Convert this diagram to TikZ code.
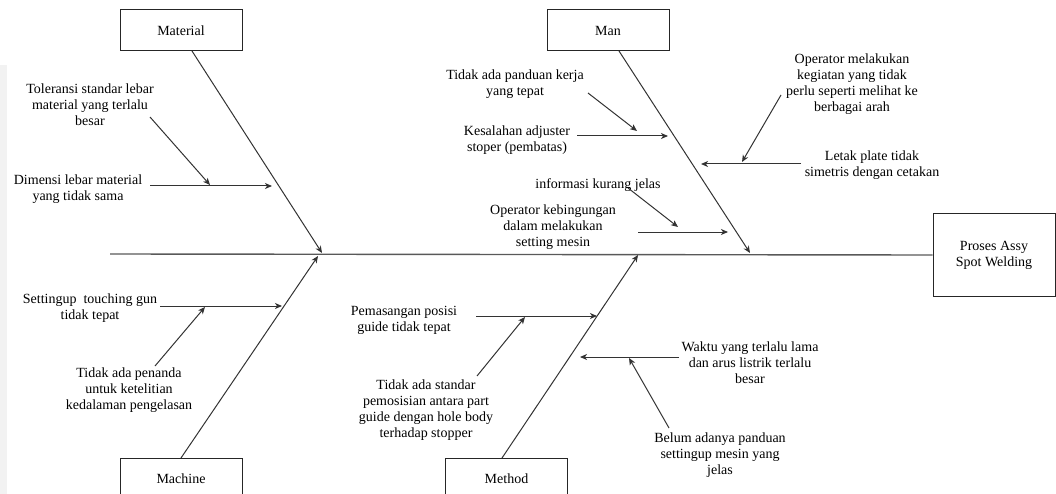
\documentclass[tikz,border=0pt]{standalone}
\usepackage{fontspec}
\newfontfamily\tnr{Liberation Serif}
\usetikzlibrary{arrows.meta}
\begin{document}
\begin{tikzpicture}[x=1pt,y=-1pt,
  txt/.style={align=center,inner sep=0pt,font=\tnr\fontsize{14}{16}\selectfont},
  catbox/.style={draw=black!85,line width=1pt,minimum width=122pt,minimum height=41pt,inner sep=0pt,font=\tnr\fontsize{14}{16}\selectfont,align=center},
  bone/.style={draw=black!80,line width=1pt,-{Stealth[length=7pt,width=6pt,inset=2pt]}},
  spine/.style={draw=black!65,line width=1.4pt}]
\useasboundingbox (0,0) rectangle (1056,494);
\clip (0,0) rectangle (1056,494);
\fill[black!5] (0,65) rectangle (7,494);

% category boxes
\node[catbox] (mat) at (181,30.5) {Material};
\node[catbox] (man) at (608,30.5) {Man};
\node[catbox] (mac) at (181,478.5) {Machine};
\node[catbox] (met) at (506.5,478.5) {Method};
\node[catbox,minimum height=82pt] (eff) at (994,255) {Proses Assy\\Spot Welding};

% spine
\coordinate (tail) at (110,254);
\draw[spine] (tail) -- (eff.west);

% bone junctions
\coordinate (jmat) at (322,253);
\coordinate (jmac) at (318,256);
\coordinate (jman) at (750,253);
\coordinate (jmet) at (638,255);
\coordinate (smat) at (192,51);
\coordinate (sman) at (619,51);
\coordinate (smac) at (181,458);
\coordinate (smet) at (502,458);
\draw[bone] (smat) -- (jmat);
\draw[bone] (smac) -- (jmac);
\draw[bone] (sman) -- (jman);
\draw[bone] (smet) -- (jmet);

% texts
\node[txt] (tol) at (90,105) {Toleransi standar lebar\\material yang terlalu\\besar};
\node[txt] (dim) at (78,189.5) {Dimensi lebar material\\yang tidak sama};
\node[txt] (set) at (90,308.5) {Settingup\ \ touching gun\\tidak tepat};
\node[txt] (pen) at (129,390) {Tidak ada penanda\\untuk ketelitian\\kedalaman pengelasan};
\node[txt] (tpk) at (515,84.5) {Tidak ada panduan kerja\\yang tepat};
\node[txt] (kes) at (517,140) {Kesalahan adjuster\\stoper (pembatas)};
\node[txt] (inf) at (598,185) {informasi kurang jelas};
\node[txt] (opk) at (553,227) {Operator kebingungan\\dalam melakukan\\setting mesin};
\node[txt] (opm) at (852,84) {Operator melakukan\\kegiatan yang tidak\\perlu seperti melihat ke\\berbagai arah};
\node[txt] (let) at (872,165) {Letak plate tidak\\simetris dengan cetakan};
\node[txt] (pem) at (404,320) {Pemasangan posisi\\guide tidak tepat};
\node[txt] (tas) at (426,410) {Tidak ada standar\\pemosisian antara part\\guide dengan hole body\\terhadap stopper};
\node[txt] (wak) at (750,363) {Waktu yang terlalu lama\\dan arus listrik terlalu\\besar};
\node[txt] (bel) at (720,455) {Belum adanya panduan\\settingup mesin yang\\jelas};

% sub-cause arrows: Material
\coordinate (a1s) at (150,186); \coordinate (a1e) at (272,186);
\coordinate (a2s) at (150,117); \coordinate (a2e) at (210,185);
\draw[bone] (a1s) -- (a1e);
\draw[bone] (a2s) -- (a2e);
% Machine
\coordinate (b1s) at (160,306); \coordinate (b1e) at (282,306);
\coordinate (b2s) at (155,366); \coordinate (b2e) at (205,307);
\draw[bone] (b1s) -- (b1e);
\draw[bone] (b2s) -- (b2e);
% Man
\coordinate (c1s) at (588,93); \coordinate (c1e) at (637,131);
\coordinate (c2s) at (577,136); \coordinate (c2e) at (668,136);
\coordinate (c3s) at (628,188); \coordinate (c3e) at (678,227);
\coordinate (c4s) at (638,232); \coordinate (c4e) at (728,232);
\coordinate (c5s) at (801,164); \coordinate (c5e) at (701,164);
\coordinate (c6s) at (781,95); \coordinate (c6e) at (742,162);
\draw[bone] (c1s) -- (c1e);
\draw[bone] (c2s) -- (c2e);
\draw[bone] (c3s) -- (c3e);
\draw[bone] (c4s) -- (c4e);
\draw[bone] (c5s) -- (c5e);
\draw[bone] (c6s) -- (c6e);
% Method
\coordinate (d1s) at (476,316); \coordinate (d1e) at (597,316);
\coordinate (d2s) at (477,376); \coordinate (d2e) at (525,317);
\coordinate (d3s) at (679,357); \coordinate (d3e) at (580,357);
\coordinate (d4s) at (669,428); \coordinate (d4e) at (629,358);
\draw[bone] (d1s) -- (d1e);
\draw[bone] (d2s) -- (d2e);
\draw[bone] (d3s) -- (d3e);
\draw[bone] (d4s) -- (d4e);
\end{tikzpicture}
\end{document}
